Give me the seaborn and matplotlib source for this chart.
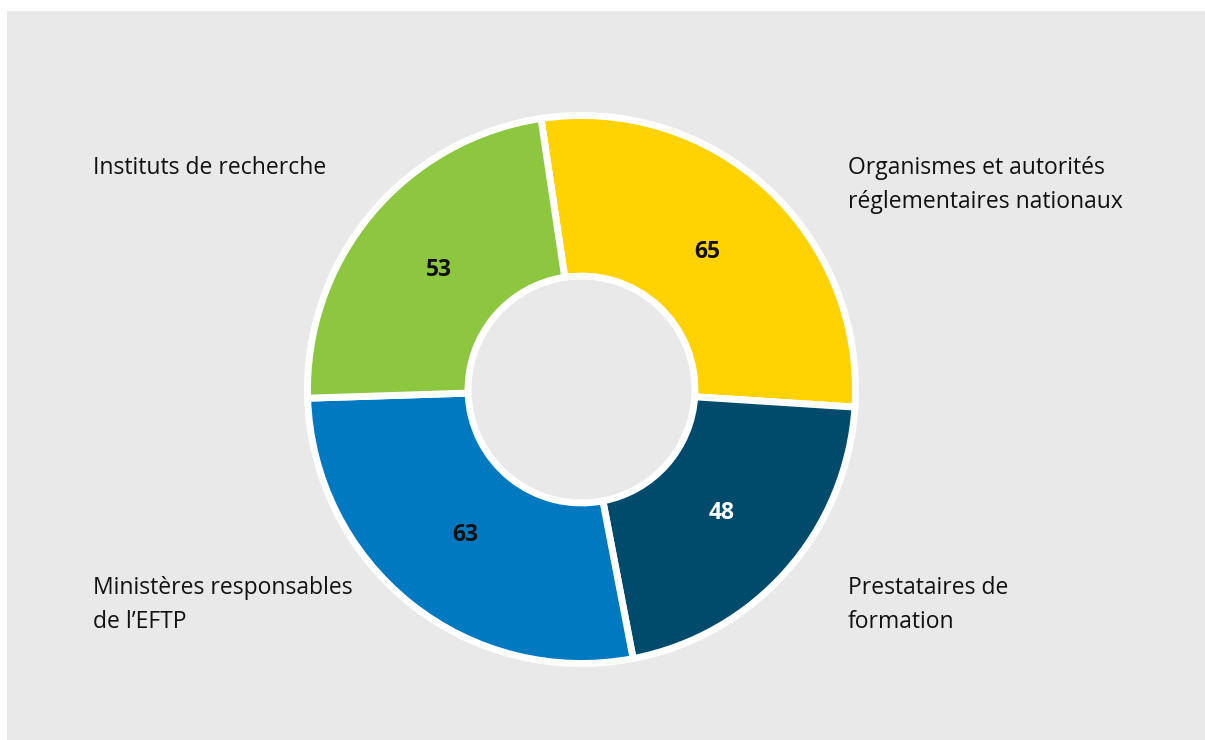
import matplotlib
matplotlib.use("Agg")
import matplotlib.pyplot as plt
import seaborn as sns

categories = ["Organismes et autorités\nréglementaires nationaux",
              "Prestataires de\nformation",
              "Ministères responsables\nde l’EFTP",
              "Instituts de recherche"]
values = [65, 48, 63, 53]
colors = ["#FFD200", "#004B6C", "#0079C1", "#8DC63F"]
value_colors = ["#111111", "#FFFFFF", "#111111", "#111111"]

sns.set_theme(style="white")
plt.rcParams['font.family'] = ['Open Sans', 'DejaVu Sans']

W, H = 1205, 740
fig = plt.figure(figsize=(W / 100, H / 100), dpi=100)
fig.patch.set_facecolor("white")
bg = "#E9E9E9"
fig.patches.append(plt.Rectangle((7 / W, 0), 1 - 7 / W, 1 - 11 / H,
                                 transform=fig.transFigure, facecolor=bg,
                                 edgecolor="none", zorder=-5))

cx, cy, r = 581.5, 389.5, 274
ax = fig.add_axes([(cx - r) / W, (H - cy - r) / H, 2 * r / W, 2 * r / H])
ax.set_zorder(2)
ax.set_facecolor("none")
ax.patch.set_alpha(0)

wedges, texts, autotexts = ax.pie(
    values, colors=colors, startangle=98.5, counterclock=False, radius=1.0,
    wedgeprops=dict(width=0.586, edgecolor="white", linewidth=5),
    autopct=lambda p: f"{p * sum(values) / 100:.0f}", pctdistance=0.68,
    textprops=dict(fontsize=16.5, fontweight="bold"))
for w in wedges:
    w.set_clip_on(False)
for t, c in zip(autotexts, value_colors):
    t.set_color(c)
ax.set_xlim(-1, 1)
ax.set_ylim(-1, 1)
ax.axis("off")

label_pos = [(848, 167), (848, 587), (93, 587), (93, 167)]
for lab, (x, y) in zip(categories, label_pos):
    fig.text(x / W, 1 - (y - 11) / H, lab, ha="left", va="top",
             fontsize=16.5, color="#111111", linespacing=1.55, zorder=3)

fig.savefig("out.png", dpi=100, facecolor=fig.get_facecolor())
